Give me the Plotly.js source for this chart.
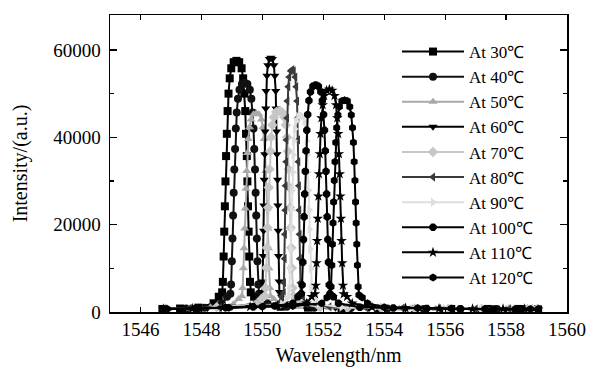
<!DOCTYPE html>
<html>
<head>
<meta charset="utf-8">
<script src="https://cdn.plot.ly/plotly-3.0.1.min.js"></script>
<style>html,body{margin:0;padding:0;background:#fff;}#chart{width:598px;height:374px;}</style>
</head>
<body>
<div id="chart"></div>
<script>
// Series names
const seriesNames = ["At 30℃","At 40℃","At 50℃","At 60℃","At 70℃","At 80℃","At 90℃","At 100℃","At 110℃","At 120℃"];

// Wavelength (nm) and intensity (a.u.)
const x30 = [1546.72,1547.30,1547.90,1548.40,1548.57,1548.68,1548.705,1548.73,1548.75,1548.77,1548.79,1548.81,1548.835,1548.86,1548.89,1548.93,1548.98,1549.06,1549.15,1549.24,1549.32,1549.37,1549.41,1549.44,1549.465,1549.49,1549.51,1549.53,1549.55,1549.57,1549.595,1549.62,1549.73,1549.90,1550.60,1551.50,1552.60,1553.80,1555.00,1556.20,1557.40,1558.40,1559.05];
const y30 = [700,800,1000,2000,3500,4500,6900,12700,18400,24200,29900,35700,40800,46000,50000,53500,55800,57200,57500,57200,55800,53500,50000,46000,40800,35700,29900,24200,18400,12700,6900,4500,3500,2000,1200,1000,900,800,700,700,700,700,600];

const x40 = [1546.80,1547.50,1548.10,1548.67,1548.84,1548.95,1548.975,1549.00,1549.02,1549.04,1549.06,1549.08,1549.105,1549.13,1549.16,1549.20,1549.25,1549.33,1549.42,1549.51,1549.59,1549.64,1549.68,1549.71,1549.735,1549.76,1549.78,1549.80,1549.82,1549.84,1549.865,1549.89,1550.00,1550.17,1550.80,1551.70,1552.90,1554.10,1555.30,1556.50,1557.70,1558.60,1559.00];
const y40 = [700,800,1000,2000,3500,4200,6300,11600,16800,22100,27300,32600,37300,42000,45700,48800,50900,52200,52500,52200,50900,48800,45700,42000,37300,32600,27300,22100,16800,11600,6300,4200,3500,2000,1200,1000,900,800,700,700,700,700,600];

const x50 = [1546.90,1547.60,1548.30,1549.05,1549.22,1549.33,1549.355,1549.38,1549.40,1549.42,1549.44,1549.46,1549.485,1549.51,1549.54,1549.58,1549.63,1549.71,1549.80,1549.89,1549.97,1550.02,1550.06,1550.09,1550.115,1550.14,1550.16,1550.18,1550.20,1550.22,1550.245,1550.27,1550.38,1550.55,1551.20,1552.20,1553.30,1554.50,1555.70,1556.90,1558.00,1558.70,1559.00];
const y50 = [700,800,1100,1800,3000,3600,5500,10000,14600,19100,23700,28200,32300,36400,39600,42300,44100,45300,45500,45300,44100,42300,39600,36400,32300,28200,23700,19100,14600,10000,5500,3600,3000,1800,1200,1000,900,800,700,700,700,700,600];

const x60 = [1546.75,1547.45,1548.20,1549.00,1549.83,1549.93,1550.00,1550.01,1550.03,1550.04,1550.05,1550.06,1550.08,1550.09,1550.11,1550.12,1550.15,1550.18,1550.23,1550.28,1550.33,1550.38,1550.41,1550.44,1550.45,1550.47,1550.48,1550.50,1550.51,1550.52,1550.53,1550.55,1550.56,1550.63,1550.73,1551.40,1552.40,1553.50,1554.70,1555.90,1557.10,1558.20,1559.05];
const y60 = [700,800,900,1200,2000,3500,4600,7000,12800,18600,24400,30300,36100,41300,46600,50600,54100,56500,57900,58200,57900,56500,54100,50600,46600,41300,36100,30300,24400,18600,12800,7000,4600,3500,2000,1200,1000,900,800,700,700,700,600];

const x70 = [1546.85,1547.70,1548.50,1549.80,1549.97,1550.08,1550.105,1550.13,1550.15,1550.17,1550.19,1550.21,1550.235,1550.26,1550.29,1550.33,1550.38,1550.46,1550.55,1550.64,1550.72,1550.77,1550.81,1550.84,1550.865,1550.89,1550.91,1550.93,1550.95,1550.97,1550.995,1551.02,1551.13,1551.30,1551.90,1552.80,1553.90,1555.00,1556.10,1557.20,1558.10,1558.70,1559.00];
const y70 = [700,800,1100,1800,3000,3700,5500,10100,14700,19300,23900,28500,32700,36800,40000,42800,44600,45800,46000,45800,44600,42800,40000,36800,32700,28500,23900,19300,14700,10100,5500,3700,3000,1800,1100,1000,900,800,700,700,700,700,600];

const x80 = [1546.78,1547.60,1548.60,1549.70,1550.53,1550.63,1550.70,1550.71,1550.73,1550.74,1550.75,1550.76,1550.78,1550.79,1550.81,1550.82,1550.85,1550.88,1550.93,1550.98,1551.03,1551.08,1551.11,1551.14,1551.15,1551.17,1551.18,1551.20,1551.21,1551.22,1551.23,1551.25,1551.26,1551.33,1551.43,1552.20,1553.40,1554.60,1555.80,1557.00,1558.10,1558.80,1559.05];
const y80 = [700,800,1000,1300,2000,3500,4400,6700,12200,17800,23300,28900,34400,39400,44400,48300,51600,53800,55200,55500,55200,53800,51600,48300,44400,39400,34400,28900,23300,17800,12200,6700,4400,3500,2000,1200,1000,900,800,700,700,700,600];

const x90 = [1546.90,1547.80,1548.80,1549.80,1550.65,1550.79,1550.87,1550.89,1550.91,1550.93,1550.95,1550.96,1550.98,1551.00,1551.02,1551.04,1551.07,1551.11,1551.18,1551.25,1551.32,1551.39,1551.43,1551.46,1551.48,1551.50,1551.52,1551.54,1551.55,1551.57,1551.59,1551.61,1551.63,1551.71,1551.85,1552.60,1553.70,1554.90,1556.00,1557.20,1558.30,1558.90,1559.05];
const y90 = [700,800,1000,1200,1800,3000,3600,5400,9900,14400,18900,23400,27900,32000,36000,39200,41900,43700,44800,45000,44800,43700,41900,39200,36000,32000,27900,23400,18900,14400,9900,5400,3600,3000,1800,1100,1000,900,800,700,700,700,600];

const x100 = [1546.82,1547.80,1548.80,1549.70,1550.40,1551.00,1551.17,1551.28,1551.305,1551.33,1551.35,1551.37,1551.39,1551.41,1551.435,1551.46,1551.49,1551.53,1551.58,1551.66,1551.75,1551.84,1551.92,1551.97,1552.01,1552.04,1552.065,1552.09,1552.11,1552.13,1552.15,1552.17,1552.195,1552.22,1552.33,1552.50,1553.20,1554.30,1555.40,1556.50,1557.60,1558.50,1559.05];
const y100 = [700,800,1000,1200,1400,2000,3500,4200,6200,11400,16600,21800,27000,32200,36900,41600,45200,48400,50400,51700,52000,51700,50400,48400,45200,41600,36900,32200,27000,21800,16600,11400,6200,4200,3500,2000,1100,900,800,700,700,700,600];

const x110 = [1546.76,1547.70,1548.70,1549.60,1550.50,1551.45,1551.62,1551.73,1551.755,1551.78,1551.80,1551.82,1551.84,1551.86,1551.885,1551.91,1551.94,1551.98,1552.03,1552.11,1552.20,1552.29,1552.37,1552.42,1552.46,1552.49,1552.515,1552.54,1552.56,1552.58,1552.60,1552.62,1552.645,1552.67,1552.78,1552.95,1553.60,1554.70,1555.80,1556.90,1557.90,1558.60,1559.05];
const y110 = [700,800,1000,1200,1400,2000,3500,4100,6100,11200,16300,21400,26500,31600,36200,40800,44400,47400,49500,50700,51000,50700,49500,47400,44400,40800,36200,31600,26500,21400,16300,11200,6100,4100,3500,2000,1100,900,800,700,700,700,600];

const x120 = [1546.88,1547.90,1548.90,1550.00,1551.00,1551.95,1552.12,1552.23,1552.255,1552.28,1552.30,1552.32,1552.34,1552.36,1552.385,1552.41,1552.44,1552.48,1552.53,1552.61,1552.70,1552.79,1552.87,1552.92,1552.96,1552.99,1553.015,1553.04,1553.06,1553.08,1553.10,1553.12,1553.145,1553.17,1553.28,1553.45,1554.00,1555.10,1556.20,1557.30,1558.30,1558.80,1559.07];
const y120 = [700,800,1000,1200,1400,2000,3300,3900,5800,10700,15500,20400,25200,30100,34400,38800,42200,45100,47000,48300,48500,48300,47000,45100,42200,38800,34400,30100,25200,20400,15500,10700,5800,3900,3300,2000,1100,900,800,700,700,700,600];

const xTicks = [1546,1548,1550,1552,1554,1556,1558,1560];
const yTicks = [0,20000,40000,60000];

const xs = [x30,x40,x50,x60,x70,x80,x90,x100,x110,x120];
const ys = [y30,y40,y50,y60,y70,y80,y90,y100,y110,y120];
const colors = ['#000000','#111111','#a9a9a9','#000000','#c6c6c6','#3a3a3a','#dedede','#000000','#000000','#000000'];
const symbols = ['square','circle','triangle-up','triangle-down','diamond','triangle-left','triangle-right','octagon','star','hexagon'];

const traces = seriesNames.map((n,i)=>({
  type:'scatter', mode:'lines+markers', name:n, x:xs[i], y:ys[i],
  line:{color:colors[i], width:2},
  marker:{color:colors[i], symbol:symbols[i], size:8, line:{width:0}}
}));

const fontFam = '"Liberation Serif", "Times New Roman", serif';
const layout = {
  width:598, height:374,
  margin:{l:110, r:31, t:15, b:62},
  paper_bgcolor:'#fff', plot_bgcolor:'#fff',
  font:{family:fontFam, size:19, color:'#000'},
  showlegend:true,
  legend:{x:0.628, y:0.936, xanchor:'left', yanchor:'top', bgcolor:'rgba(0,0,0,0)', font:{family:fontFam, size:17, color:'#000'}, itemwidth:62, tracegroupgap:0},
  xaxis:{range:[1545,1560], tickvals:xTicks, ticktext:xTicks.map(String), ticks:'inside', ticklen:5, tickwidth:1.2, tickcolor:'#000',
    showline:true, linecolor:'#000', linewidth:1.5, mirror:'ticks', showgrid:false, zeroline:false,
    title:{text:'Wavelength/nm', font:{family:fontFam, size:20}, standoff:8}, tickfont:{family:fontFam, size:19}},
  yaxis:{range:[0,68000], tickvals:yTicks, tickformat:'d', ticks:'inside', ticklen:7, tickwidth:1.2, tickcolor:'#000',
    minor:{dtick:10000, tick0:0, ticks:'inside', ticklen:4, tickcolor:'#000', showgrid:false},
    showline:true, linecolor:'#000', linewidth:1.5, mirror:'ticks', showgrid:false, zeroline:false,
    title:{text:'Intensity/(a.u.)', font:{family:fontFam, size:20}, standoff:20}, tickfont:{family:fontFam, size:19}, ticklabelstandoff:4}
};
Plotly.newPlot('chart', traces, layout, {displayModeBar:false, staticPlot:true});
</script>
</body>
</html>
